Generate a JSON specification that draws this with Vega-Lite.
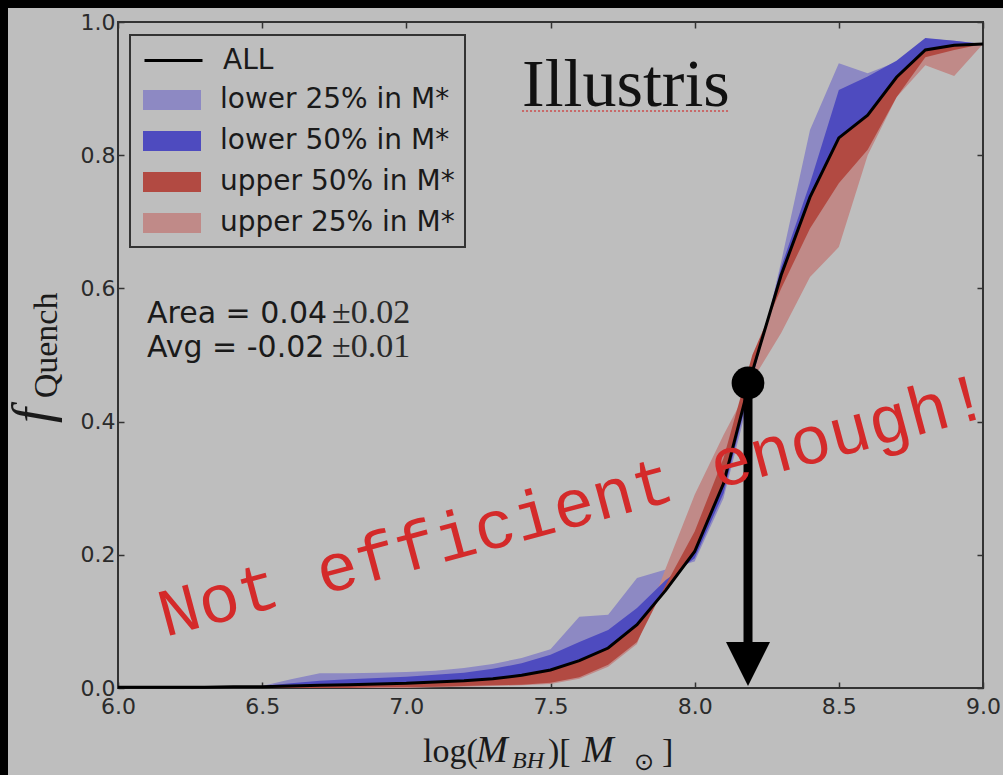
{
  "$schema": "https://vega.github.io/schema/vega-lite/v6.json",
  "width": 865,
  "height": 666,
  "autosize": {"type": "none"},
  "padding": {"left": 118, "top": 22, "right": 20, "bottom": 87},
  "background": "#bebebe",
  "config": {
    "view": {"stroke": "#333333", "strokeWidth": 2},
    "font": "DejaVu Sans",
    "axis": {"grid": false, "domain": false, "tickColor": "#333333", "tickWidth": 1.5, "tickSize": -6, "labelFont": "DejaVu Sans", "labelFontSize": 22, "labelColor": "#2b2b2b", "labelOverlap": false, "labelFlush": false},
    "legend": {"padding": 10, "strokeWidth": 2, "labelFont": "DejaVu Sans", "labelFontSize": 28, "labelColor": "#1a1a1a", "labelLimit": 400, "rowPadding": 7, "symbolSize": 1600, "symbolOffset": 12, "labelOffset": 28}
  },
  "data": {"values": [
    {"x": 6.0, "all": 0.001, "l25": 0.001, "l50": 0.001, "u50": 0.0, "u25": 0.0},
    {"x": 6.1, "all": 0.001, "l25": 0.001, "l50": 0.001, "u50": 0.0, "u25": 0.0},
    {"x": 6.2, "all": 0.001, "l25": 0.001, "l50": 0.001, "u50": 0.0, "u25": 0.0},
    {"x": 6.3, "all": 0.001, "l25": 0.002, "l50": 0.001, "u50": 0.0, "u25": 0.0},
    {"x": 6.4, "all": 0.002, "l25": 0.002, "l50": 0.002, "u50": 0.0, "u25": 0.0},
    {"x": 6.5, "all": 0.002, "l25": 0.003, "l50": 0.003, "u50": 0.0, "u25": 0.0},
    {"x": 6.6, "all": 0.003, "l25": 0.013, "l50": 0.007, "u50": 0.0, "u25": 0.0},
    {"x": 6.7, "all": 0.004, "l25": 0.022, "l50": 0.011, "u50": 0.0, "u25": 0.0},
    {"x": 6.8, "all": 0.005, "l25": 0.022, "l50": 0.013, "u50": 0.0, "u25": 0.0},
    {"x": 6.9, "all": 0.006, "l25": 0.023, "l50": 0.015, "u50": 0.001, "u25": 0.0},
    {"x": 7.0, "all": 0.007, "l25": 0.024, "l50": 0.017, "u50": 0.001, "u25": 0.0},
    {"x": 7.1, "all": 0.009, "l25": 0.026, "l50": 0.02, "u50": 0.002, "u25": 0.001},
    {"x": 7.2, "all": 0.011, "l25": 0.03, "l50": 0.023, "u50": 0.003, "u25": 0.002},
    {"x": 7.3, "all": 0.014, "l25": 0.036, "l50": 0.029, "u50": 0.004, "u25": 0.003},
    {"x": 7.4, "all": 0.019, "l25": 0.045, "l50": 0.037, "u50": 0.005, "u25": 0.004},
    {"x": 7.5, "all": 0.027, "l25": 0.058, "l50": 0.05, "u50": 0.008, "u25": 0.006},
    {"x": 7.6, "all": 0.041, "l25": 0.107, "l50": 0.069, "u50": 0.016, "u25": 0.014},
    {"x": 7.7, "all": 0.06, "l25": 0.11, "l50": 0.087, "u50": 0.035, "u25": 0.032},
    {"x": 7.8, "all": 0.095, "l25": 0.165, "l50": 0.12, "u50": 0.069, "u25": 0.066},
    {"x": 7.9, "all": 0.147, "l25": 0.178, "l50": 0.162, "u50": 0.155, "u25": 0.18},
    {"x": 8.0, "all": 0.205, "l25": 0.19, "l50": 0.195, "u50": 0.235, "u25": 0.29},
    {"x": 8.1, "all": 0.307, "l25": 0.285, "l50": 0.292, "u50": 0.345, "u25": 0.38},
    {"x": 8.2, "all": 0.475, "l25": 0.455, "l50": 0.465, "u50": 0.5, "u25": 0.462},
    {"x": 8.3, "all": 0.62, "l25": 0.64, "l50": 0.632, "u50": 0.6, "u25": 0.533},
    {"x": 8.4, "all": 0.737, "l25": 0.838, "l50": 0.758, "u50": 0.69, "u25": 0.617},
    {"x": 8.5, "all": 0.826, "l25": 0.938, "l50": 0.898, "u50": 0.758, "u25": 0.662},
    {"x": 8.6, "all": 0.86, "l25": 0.923, "l50": 0.918, "u50": 0.808, "u25": 0.8},
    {"x": 8.7, "all": 0.917, "l25": 0.94, "l50": 0.942, "u50": 0.887, "u25": 0.887},
    {"x": 8.8, "all": 0.958, "l25": 0.975, "l50": 0.976, "u50": 0.947, "u25": 0.935},
    {"x": 8.9, "all": 0.965, "l25": 0.972, "l50": 0.972, "u50": 0.958, "u25": 0.919},
    {"x": 9.0, "all": 0.967, "l25": 0.967, "l50": 0.967, "u50": 0.967, "u25": 0.967}
  ]},
  "resolve": {"axis": {"x": "independent", "y": "independent"}},
  "layer": [
    {
      "data": {"values": [{}]},
      "mark": {"type": "rect", "color": "#000000"},
      "encoding": {
        "x": {"datum": 5.59, "type": "quantitative", "scale": {"domain": [6, 9], "nice": false, "zero": false}, "axis": null},
        "x2": {"datum": 5.6185},
        "y": {"datum": -0.135, "type": "quantitative", "scale": {"domain": [0, 1], "nice": false, "zero": false}, "axis": null},
        "y2": {"datum": 1.034}
      }
    },
    {
      "data": {"values": [{}]},
      "mark": {"type": "rect", "color": "#000000"},
      "encoding": {
        "x": {"datum": 5.59, "type": "quantitative", "scale": {"domain": [6, 9], "nice": false, "zero": false}, "axis": null},
        "x2": {"datum": 9.07},
        "y": {"datum": 1.021, "type": "quantitative", "scale": {"domain": [0, 1], "nice": false, "zero": false}, "axis": null},
        "y2": {"datum": 1.034}
      }
    },
    {
      "mark": {"type": "area", "opacity": 1},
      "encoding": {
        "x": {"field": "x", "type": "quantitative", "scale": {"domain": [6, 9], "nice": false, "zero": false}, "axis": {"orient": "top", "values": [6, 6.5, 7, 7.5, 8, 8.5, 9], "labels": false, "title": null}},
        "y": {"field": "l25", "type": "quantitative", "scale": {"domain": [0, 1], "nice": false, "zero": false}, "axis": {"orient": "right", "values": [0, 0.2, 0.4, 0.6, 0.8, 1], "labels": false, "title": null}},
        "y2": {"field": "all"},
        "fill": {"datum": "lower 25% in M*", "type": "nominal",
          "scale": {"domain": ["lower 25% in M*", "lower 50% in M*", "upper 50% in M*", "upper 25% in M*"], "range": ["#8d89c3", "#4e4bbf", "#b24a42", "#c08a88"]},
          "legend": {"title": " ", "titleFontSize": 27, "titlePadding": 8, "orient": "none", "legendX": 12, "legendY": 13, "strokeColor": "#333333", "fillColor": "transparent", "symbolType": "M-1.45,-0.5H1.45V0.5H-1.45Z", "symbolStrokeWidth": 0}
        }
      }
    },
    {
      "mark": {"type": "area", "opacity": 1},
      "encoding": {
        "x": {"field": "x", "type": "quantitative", "scale": {"domain": [6, 9], "nice": false, "zero": false}, "axis": null},
        "y": {"field": "u25", "type": "quantitative", "scale": {"domain": [0, 1], "nice": false, "zero": false}, "axis": null},
        "y2": {"field": "all"},
        "fill": {"datum": "upper 25% in M*", "type": "nominal"}
      }
    },
    {
      "mark": {"type": "area", "opacity": 1},
      "encoding": {
        "x": {"field": "x", "type": "quantitative", "scale": {"domain": [6, 9], "nice": false, "zero": false}, "axis": null},
        "y": {"field": "l50", "type": "quantitative", "scale": {"domain": [0, 1], "nice": false, "zero": false}, "axis": null},
        "y2": {"field": "all"},
        "fill": {"datum": "lower 50% in M*", "type": "nominal"}
      }
    },
    {
      "mark": {"type": "area", "opacity": 1},
      "encoding": {
        "x": {"field": "x", "type": "quantitative", "scale": {"domain": [6, 9], "nice": false, "zero": false}, "axis": null},
        "y": {"field": "u50", "type": "quantitative", "scale": {"domain": [0, 1], "nice": false, "zero": false}, "axis": null},
        "y2": {"field": "all"},
        "fill": {"datum": "upper 50% in M*", "type": "nominal"}
      }
    },
    {
      "mark": {"type": "line", "strokeWidth": 3},
      "encoding": {
        "x": {"field": "x", "type": "quantitative", "scale": {"domain": [6, 9], "nice": false, "zero": false}, "axis": {"orient": "bottom", "values": [6, 6.5, 7, 7.5, 8, 8.5, 9], "format": ".1f", "title": null, "labelPadding": 14}},
        "y": {"field": "all", "type": "quantitative", "scale": {"domain": [0, 1], "nice": false, "zero": false}, "axis": {"orient": "left", "values": [0, 0.2, 0.4, 0.6, 0.8, 1], "format": ".1f", "title": null, "labelPadding": 9}},
        "stroke": {"datum": "ALL", "type": "nominal", "scale": {"domain": ["ALL"], "range": ["#000000"]},
          "legend": {"title": null, "orient": "none", "legendX": 12, "legendY": 7, "strokeColor": "transparent", "fillColor": "transparent", "symbolType": "M-1.45,0H1.45", "symbolStrokeWidth": 3}
        }
      }
    },
    {
      "data": {"values": [{}]},
      "mark": {"type": "rule", "color": "#cc4444", "strokeWidth": 2, "strokeDash": [2, 2], "opacity": 0.7},
      "encoding": {
        "x": {"datum": 7.4012, "type": "quantitative", "scale": {"domain": [6, 9], "nice": false, "zero": false}, "axis": null},
        "x2": {"datum": 8.1225},
        "y": {"datum": 0.8664, "type": "quantitative", "scale": {"domain": [0, 1], "nice": false, "zero": false}, "axis": null}
      }
    },
    {
      "data": {"values": [{}]},
      "mark": {"type": "text", "text": "Illustris", "font": "Liberation Serif", "fontSize": 68, "align": "left", "baseline": "alphabetic", "color": "#111111"},
      "encoding": {
        "x": {"datum": 7.4012, "type": "quantitative", "scale": {"domain": [6, 9], "nice": false, "zero": false}, "axis": null},
        "y": {"datum": 0.8739, "type": "quantitative", "scale": {"domain": [0, 1], "nice": false, "zero": false}, "axis": null}
      }
    },
    {
      "data": {"values": [{}]},
      "mark": {"type": "text", "text": "Area = 0.04", "font": "DejaVu Sans", "fontSize": 30, "align": "left", "baseline": "alphabetic", "color": "#1a1a1a"},
      "encoding": {
        "x": {"datum": 6.1006, "type": "quantitative", "scale": {"domain": [6, 9], "nice": false, "zero": false}, "axis": null},
        "y": {"datum": 0.548, "type": "quantitative", "scale": {"domain": [0, 1], "nice": false, "zero": false}, "axis": null}
      }
    },
    {
      "data": {"values": [{}]},
      "mark": {"type": "text", "text": "±0.02", "font": "Liberation Serif", "fontSize": 34, "align": "left", "baseline": "alphabetic", "color": "#2a2a2a"},
      "encoding": {
        "x": {"datum": 6.7422, "type": "quantitative", "scale": {"domain": [6, 9], "nice": false, "zero": false}, "axis": null},
        "y": {"datum": 0.548, "type": "quantitative", "scale": {"domain": [0, 1], "nice": false, "zero": false}, "axis": null}
      }
    },
    {
      "data": {"values": [{}]},
      "mark": {"type": "text", "text": "Avg = -0.02", "font": "DejaVu Sans", "fontSize": 30, "align": "left", "baseline": "alphabetic", "color": "#1a1a1a"},
      "encoding": {
        "x": {"datum": 6.1006, "type": "quantitative", "scale": {"domain": [6, 9], "nice": false, "zero": false}, "axis": null},
        "y": {"datum": 0.497, "type": "quantitative", "scale": {"domain": [0, 1], "nice": false, "zero": false}, "axis": null}
      }
    },
    {
      "data": {"values": [{}]},
      "mark": {"type": "text", "text": "±0.01", "font": "Liberation Serif", "fontSize": 34, "align": "left", "baseline": "alphabetic", "color": "#2a2a2a"},
      "encoding": {
        "x": {"datum": 6.7422, "type": "quantitative", "scale": {"domain": [6, 9], "nice": false, "zero": false}, "axis": null},
        "y": {"datum": 0.497, "type": "quantitative", "scale": {"domain": [0, 1], "nice": false, "zero": false}, "axis": null}
      }
    },
    {
      "data": {"values": [{}]},
      "mark": {"type": "rule", "color": "#000000", "strokeWidth": 9},
      "encoding": {
        "x": {"datum": 8.185, "type": "quantitative", "scale": {"domain": [6, 9], "nice": false, "zero": false}, "axis": null},
        "y": {"datum": 0.458, "type": "quantitative", "scale": {"domain": [0, 1], "nice": false, "zero": false}, "axis": null},
        "y2": {"datum": 0.045}
      }
    },
    {
      "data": {"values": [{}]},
      "mark": {"type": "point", "shape": "circle", "filled": true, "color": "#000000", "opacity": 1, "size": 1075},
      "encoding": {
        "x": {"datum": 8.185, "type": "quantitative", "scale": {"domain": [6, 9], "nice": false, "zero": false}, "axis": null},
        "y": {"datum": 0.458, "type": "quantitative", "scale": {"domain": [0, 1], "nice": false, "zero": false}, "axis": null}
      }
    },
    {
      "data": {"values": [{}]},
      "mark": {"type": "point", "shape": "M-1,-1H1L0,1Z", "filled": true, "color": "#000000", "opacity": 1, "size": 1936},
      "encoding": {
        "x": {"datum": 8.185, "type": "quantitative", "scale": {"domain": [6, 9], "nice": false, "zero": false}, "axis": null},
        "y": {"datum": 0.036, "type": "quantitative", "scale": {"domain": [0, 1], "nice": false, "zero": false}, "axis": null}
      }
    },
    {
      "data": {"values": [{}]},
      "mark": {"type": "text", "text": "Not efficient enough!", "font": "Liberation Mono", "fontSize": 68, "align": "left", "baseline": "alphabetic", "angle": 345, "color": "#d42a2a"},
      "encoding": {
        "x": {"datum": 6.163, "type": "quantitative", "scale": {"domain": [6, 9], "nice": false, "zero": false}, "axis": null},
        "y": {"datum": 0.0766, "type": "quantitative", "scale": {"domain": [0, 1], "nice": false, "zero": false}, "axis": null}
      }
    },
    {
      "data": {"values": [{}]},
      "mark": {"type": "text", "text": "log(", "font": "Liberation Serif", "fontSize": 34, "align": "left", "baseline": "alphabetic", "color": "#1a1a1a"},
      "encoding": {
        "x": {"datum": 7.0578, "type": "quantitative", "scale": {"domain": [6, 9], "nice": false, "zero": false}, "axis": null},
        "y": {"datum": -0.1111, "type": "quantitative", "scale": {"domain": [0, 1], "nice": false, "zero": false}, "axis": null}
      }
    },
    {
      "data": {"values": [{}]},
      "mark": {"type": "text", "text": "M", "font": "Liberation Serif", "fontStyle": "italic", "fontSize": 38, "align": "left", "baseline": "alphabetic", "color": "#1a1a1a"},
      "encoding": {
        "x": {"datum": 7.2416, "type": "quantitative", "scale": {"domain": [6, 9], "nice": false, "zero": false}, "axis": null},
        "y": {"datum": -0.1111, "type": "quantitative", "scale": {"domain": [0, 1], "nice": false, "zero": false}, "axis": null}
      }
    },
    {
      "data": {"values": [{}]},
      "mark": {"type": "text", "text": "BH", "font": "Liberation Serif", "fontStyle": "italic", "fontSize": 24, "align": "left", "baseline": "alphabetic", "color": "#1a1a1a"},
      "encoding": {
        "x": {"datum": 7.3665, "type": "quantitative", "scale": {"domain": [6, 9], "nice": false, "zero": false}, "axis": null},
        "y": {"datum": -0.1201, "type": "quantitative", "scale": {"domain": [0, 1], "nice": false, "zero": false}, "axis": null}
      }
    },
    {
      "data": {"values": [{}]},
      "mark": {"type": "text", "text": ")[", "font": "Liberation Serif", "fontSize": 34, "align": "left", "baseline": "alphabetic", "color": "#1a1a1a"},
      "encoding": {
        "x": {"datum": 7.4913, "type": "quantitative", "scale": {"domain": [6, 9], "nice": false, "zero": false}, "axis": null},
        "y": {"datum": -0.1111, "type": "quantitative", "scale": {"domain": [0, 1], "nice": false, "zero": false}, "axis": null}
      }
    },
    {
      "data": {"values": [{}]},
      "mark": {"type": "text", "text": "M", "font": "Liberation Serif", "fontStyle": "italic", "fontSize": 38, "align": "left", "baseline": "alphabetic", "color": "#1a1a1a"},
      "encoding": {
        "x": {"datum": 7.6093, "type": "quantitative", "scale": {"domain": [6, 9], "nice": false, "zero": false}, "axis": null},
        "y": {"datum": -0.1111, "type": "quantitative", "scale": {"domain": [0, 1], "nice": false, "zero": false}, "axis": null}
      }
    },
    {
      "data": {"values": [{}]},
      "mark": {"type": "text", "text": "⊙", "font": "DejaVu Sans", "fontSize": 24, "align": "left", "baseline": "alphabetic", "color": "#1a1a1a"},
      "encoding": {
        "x": {"datum": 7.7896, "type": "quantitative", "scale": {"domain": [6, 9], "nice": false, "zero": false}, "axis": null},
        "y": {"datum": -0.1231, "type": "quantitative", "scale": {"domain": [0, 1], "nice": false, "zero": false}, "axis": null}
      }
    },
    {
      "data": {"values": [{}]},
      "mark": {"type": "text", "text": "]", "font": "Liberation Serif", "fontSize": 34, "align": "left", "baseline": "alphabetic", "color": "#1a1a1a"},
      "encoding": {
        "x": {"datum": 7.8867, "type": "quantitative", "scale": {"domain": [6, 9], "nice": false, "zero": false}, "axis": null},
        "y": {"datum": -0.1111, "type": "quantitative", "scale": {"domain": [0, 1], "nice": false, "zero": false}, "axis": null}
      }
    },
    {
      "data": {"values": [{}]},
      "mark": {"type": "text", "text": "f", "font": "Liberation Serif", "fontStyle": "italic", "fontSize": 54, "align": "left", "baseline": "alphabetic", "angle": 270, "color": "#1a1a1a"},
      "encoding": {
        "x": {"datum": 5.7642, "type": "quantitative", "scale": {"domain": [6, 9], "nice": false, "zero": false}, "axis": null},
        "y": {"datum": 0.398, "type": "quantitative", "scale": {"domain": [0, 1], "nice": false, "zero": false}, "axis": null}
      }
    },
    {
      "data": {"values": [{}]},
      "mark": {"type": "text", "text": "Quench", "font": "Liberation Serif", "fontSize": 34, "align": "left", "baseline": "alphabetic", "angle": 270, "color": "#1a1a1a"},
      "encoding": {
        "x": {"datum": 5.788, "type": "quantitative", "scale": {"domain": [6, 9], "nice": false, "zero": false}, "axis": null},
        "y": {"datum": 0.435, "type": "quantitative", "scale": {"domain": [0, 1], "nice": false, "zero": false}, "axis": null}
      }
    }
  ]
}
